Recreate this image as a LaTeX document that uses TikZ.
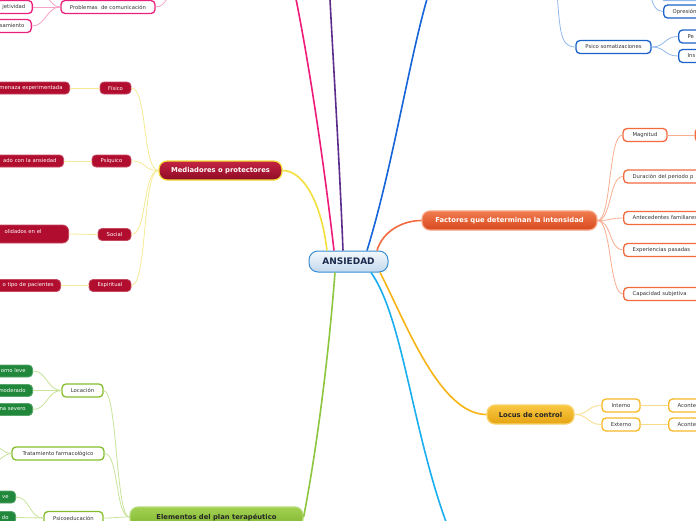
\documentclass[tikz,border=0pt]{standalone}
\usepackage{fontspec}
\setmainfont{DejaVu Sans}

\definecolor{rootedge}{HTML}{3A8ED3}
\definecolor{roottop}{HTML}{F4F8FC}
\definecolor{rootbot}{HTML}{C3D9EE}
\definecolor{rootink}{HTML}{1B2B4D}
\definecolor{medtop}{HTML}{C42342}
\definecolor{medbot}{HTML}{8E0B25}
\definecolor{mededge}{HTML}{F3DE3A}
\definecolor{medline}{HTML}{F2DF3C}
\definecolor{medpale}{HTML}{F6EA96}
\definecolor{redfill}{HTML}{B10D2E}
\definecolor{factop}{HTML}{F07C4E}
\definecolor{facbot}{HTML}{D8481E}
\definecolor{facedge}{HTML}{F7A482}
\definecolor{facline}{HTML}{F26B3E}
\definecolor{facpale}{HTML}{F8AE90}
\definecolor{facbox}{HTML}{F26B3E}
\definecolor{loctop}{HTML}{FAC843}
\definecolor{locbot}{HTML}{E5A312}
\definecolor{locedge}{HTML}{F8D46A}
\definecolor{locline}{HTML}{F5B414}
\definecolor{locpale}{HTML}{F9DC8A}
\definecolor{locbox}{HTML}{F7B927}
\definecolor{eletop}{HTML}{A2D152}
\definecolor{elebot}{HTML}{80B52F}
\definecolor{eleedge}{HTML}{B6DB78}
\definecolor{eleline}{HTML}{8DC63F}
\definecolor{elepale}{HTML}{C8E39A}
\definecolor{elebox}{HTML}{84BE2E}
\definecolor{greenfill}{HTML}{21883B}
\definecolor{pinkline}{HTML}{EE1B79}
\definecolor{pinkpale}{HTML}{F5A3C6}
\definecolor{pinkbox}{HTML}{E8217A}
\definecolor{purpline}{HTML}{5B2C8C}
\definecolor{blueline}{HTML}{1565D8}
\definecolor{bluepale}{HTML}{92B9EE}
\definecolor{bluebox}{HTML}{1B63C9}
\definecolor{cyanline}{HTML}{19AEEF}
\definecolor{textgray}{HTML}{333333}

\begin{document}
\begin{tikzpicture}[x=1pt, y=-1pt,
  root/.style={rectangle, draw=rootedge, line width=1, rounded corners=9, top color=roottop, bottom color=rootbot, minimum width=79, minimum height=21, inner sep=1, text=rootink, font=\fontsize{9}{10}\selectfont\bfseries},
  topic/.style={rectangle, draw=#1, line width=1.2, rounded corners=8, minimum height=19, inner sep=1, font=\fontsize{6.8}{8}\selectfont\bfseries},
  leaf/.style={rectangle, draw=#1, fill=white, line width=1.3, rounded corners=4, minimum height=13, inner xsep=2, inner ysep=1, text=textgray, font=\fontsize{5.3}{6.4}\selectfont},
  tag/.style={rectangle, draw=#1!75!white, fill=#1, line width=0.8, rounded corners=4, minimum height=12, inner xsep=2, inner ysep=1, text=white, font=\fontsize{5.3}{6.4}\selectfont},
  cutl/.style={anchor=east, text width=#1, align=right, inner xsep=7},
  cutr/.style={anchor=west, text width=#1, align=left, inner xsep=9},
  branch/.style={draw=#1, line width=1.6},
  twig/.style={draw=#1, line width=0.8}
]
  \useasboundingbox (0,0) rectangle (696,520);
  \clip (0,0) rectangle (696,520);
  \fill[white] (0,0) rectangle (696,520);

  % loose ends of branches running off the page
  \coordinate (pinkup) at (292,-20);
  \coordinate (purpup) at (329,-20);
  \coordinate (blueup) at (433,-20);
  \coordinate (cyandown) at (455,545);
  \coordinate (probup) at (172,-20);
  \coordinate (probc) at (35,-12);
  \coordinate (psup) at (556,-20);
  \coordinate (opup) at (650,-12);
  \coordinate (trac1) at (-6,446);
  \coordinate (trac2) at (-6,462);

  % root
  \node[root] (ans) at (348.5,261.5) {ANSIEDAD};

  % main topics
  \node[topic=mededge, top color=medtop, bottom color=medbot, text=white, minimum width=123] (med) at (220.5,170.5) {Mediadores o protectores};
  \node[topic=facedge, top color=factop, bottom color=facbot, text=white, minimum width=175] (fac) at (509.5,220.5) {Factores que determinan la intensidad};
  \node[topic=locedge, top color=loctop, bottom color=locbot, text=black!85, minimum width=87] (loc) at (530.5,414.5) {Locus de control};
  \node[topic=eleedge, top color=eletop, bottom color=elebot, text=black!85, minimum width=173, minimum height=20] (ele) at (216.5,517) {Elementos del plan terapéutico};

  % Mediadores o protectores
  \node[tag=redfill, minimum width=31] (fis) at (115.5,88) {Físico};
  \node[tag=redfill, minimum width=39] (psq) at (111.5,161) {Psíquico};
  \node[tag=redfill, minimum width=33] (soc) at (114.5,234.5) {Social};
  \node[tag=redfill, minimum width=42] (esp) at (110,285.5) {Espiritual};
  \node[tag=redfill, cutl=80] (fisd) at (70,88) {menaza experimentada};
  \node[tag=redfill, cutl=80] (psqd) at (64,161) {ado con la ansiedad};
  \node[tag=redfill, cutl=80, minimum height=18, text depth=6, rounded corners=6] (socd) at (69,234) {olidados en el\hspace*{20pt}};
  \node[tag=redfill, cutl=80] (espd) at (61,285.5) {o tipo de pacientes};

  % Factores que determinan la intensidad
  \node[leaf=facbox, minimum width=44] (mag) at (645,135) {Magnitud};
  \node[leaf=facbox, cutr=60] (magd) at (694.5,135) {};
  \node[leaf=facbox, cutr=120] (dur) at (623,176.5) {Duración del periodo p};
  \node[leaf=facbox, cutr=120] (ant) at (623,218) {Antecedentes familiares};
  \node[leaf=facbox, cutr=120] (exp) at (623,250) {Experiencias pasadas};
  \node[leaf=facbox, cutr=120] (cap) at (623,294) {Capacidad subjetiva};

  % Locus de control
  \node[leaf=locbox, minimum width=38] (int) at (621,405.5) {Interno};
  \node[leaf=locbox, minimum width=38] (ext) at (621,424.5) {Externo};
  \node[leaf=locbox, cutr=60] (intd) at (668,405.5) {Aconte};
  \node[leaf=locbox, cutr=60] (extd) at (668,424.5) {Aconte};

  % Elementos del plan terapeutico
  \node[leaf=elebox, minimum width=41] (loca) at (82.5,390.5) {Locación};
  \node[leaf=elebox, minimum width=92] (tra) at (58,453.5) {Tratamiento farmacológico};
  \node[leaf=elebox, minimum width=59] (edu) at (73.5,518) {Psicoeducación};
  \node[tag=greenfill, cutl=60] (leve) at (33,371) {orno leve};
  \node[tag=greenfill, cutl=60] (mod) at (33,390.5) {moderado};
  \node[tag=greenfill, cutl=60] (sev) at (33,409.5) {na severo};
  \node[tag=greenfill, cutl=40] (eve) at (16,497) {ve};
  \node[tag=greenfill, cutl=40] (edo) at (16,517.5) {do};

  % pink branch (top left)
  \node[leaf=pinkbox, minimum width=94] (prob) at (108,7) {Problemas\ \ de comunicación};
  \node[leaf=pinkbox, cutl=50] (subj) at (33,7) {jetividad};
  \node[leaf=pinkbox, cutl=50] (pens) at (32,26) {samiento};

  % blue branch (top right)
  \node[leaf=bluebox, minimum width=75] (psico) at (613.5,47) {Psico somatizaciones};
  \node[leaf=bluebox, cutr=60] (opr) at (663,11.5) {Opresión};
  \node[leaf=bluebox, cutr=40] (pe) at (678,36.5) {Pe};
  \node[leaf=bluebox, cutr=40] (ins) at (678,56) {Ins};
  \node[leaf=bluepale, cutr=60] (sel) at (660,-6) {};

  % branches from the root
  \draw[branch=medline] ([xshift=-21.5]ans.north) .. controls +(-6,-50) and +(20,0) .. (med.east);
  \draw[branch=pinkline] ([xshift=-14.5]ans.north) .. controls +(-14,-121) and +(11,50) .. (pinkup);
  \draw[branch=purpline] ([xshift=-5.5]ans.north) .. controls +(-4,-100) and +(4,80) .. (purpup);
  \draw[branch=blueline] ([xshift=18.5]ans.north) .. controls +(28,-91) and +(-21,60) .. (blueup);
  \draw[branch=facline] ([xshift=28.5]ans.north) .. controls +(6,-20) and +(-18,0) .. (fac.west);
  \draw[branch=locline] ([xshift=31.5]ans.south) .. controls +(25,48) and +(-47,0) .. (loc.west);
  \draw[branch=cyanline] ([xshift=22.5]ans.south) .. controls +(34,48) and +(-42,-100) .. (cyandown);
  \draw[branch=eleline] ([xshift=-13.5]ans.south) .. controls +(-10,130) and +(4,-20) .. (ele.east);

  % Mediadores o protectores
  \foreach \n in {fis,psq,soc,esp}
    \draw[twig=medpale] (med.west) .. controls +(-16,0) and +(16,0) .. (\n.east);
  \draw[twig=medpale] (fis.west) -- (fisd.east);
  \draw[twig=medpale] (psq.west) -- (psqd.east);
  \draw[twig=medpale] (soc.west) -- (socd.east);
  \draw[twig=medpale] (esp.west) -- (espd.east);

  % Factores que determinan la intensidad
  \foreach \n in {mag,dur,ant,exp,cap}
    \draw[twig=facpale] (fac.east) .. controls +(14,0) and +(-14,0) .. (\n.west);
  \draw[twig=facpale] (mag.east) -- (magd.west);

  % Locus de control
  \foreach \n in {int,ext}
    \draw[twig=locpale] (loc.east) .. controls +(14,0) and +(-14,0) .. (\n.west);
  \draw[twig=locpale] (int.east) -- (intd.west);
  \draw[twig=locpale] (ext.east) -- (extd.west);

  % Elementos del plan terapeutico
  \foreach \n in {loca,tra,edu}
    \draw[twig=elepale] (ele.west) .. controls +(-14,0) and +(14,0) .. (\n.east);
  \foreach \n in {leve,mod,sev}
    \draw[twig=elepale] (loca.west) .. controls +(-14,0) and +(14,0) .. (\n.east);
  \draw[twig=elepale] (tra.west) .. controls +(-8,0) and +(6,0) .. (trac1);
  \draw[twig=elepale] (tra.west) .. controls +(-8,0) and +(6,0) .. (trac2);
  \foreach \n in {eve,edo}
    \draw[twig=elepale] (edu.west) .. controls +(-14,0) and +(14,0) .. (\n.east);

  % pink branch
  \draw[twig=pinkpale] (prob.east) .. controls +(10,0) and +(-2,14) .. (probup);
  \draw[twig=pinkpale] (prob.west) .. controls +(-12,0) and +(12,0) .. (probc);
  \draw[twig=pinkpale] (prob.west) .. controls +(-14,0) and +(14,0) .. (subj.east);
  \draw[twig=pinkpale] (prob.west) .. controls +(-14,0) and +(14,0) .. (pens.east);

  % blue branch
  \draw[twig=bluepale] (psup) .. controls +(4,50) and +(-16,0) .. (psico.west);
  \draw[twig=bluepale] (opup) .. controls +(1,18) and +(-6,0) .. (opr.west);
  \draw[twig=bluepale] (psico.east) .. controls +(14,0) and +(-14,0) .. (pe.west);
  \draw[twig=bluepale] (psico.east) .. controls +(14,0) and +(-14,0) .. (ins.west);
\end{tikzpicture}
\end{document}
